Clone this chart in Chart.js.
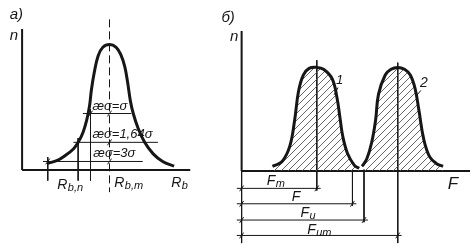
<!DOCTYPE html>
<html lang="ru">
<head>
<meta charset="UTF-8">
<title>Распределение</title>
<style>
  body{margin:0;background:#fff;}
  #wrap{position:relative;width:476px;height:250px;background:#fff;}
  canvas{position:absolute;top:0;}
</style>
</head>
<body>
<div id="wrap">
  <canvas id="left_chart" width="200" height="250" style="left:0;width:200px;height:250px"></canvas>
  <canvas id="right_chart" width="276" height="250" style="left:200px;width:276px;height:250px"></canvas>
</div>
<script src="https://cdn.jsdelivr.net/npm/chart.js"></script>
<script>
  // panel а) : distribution of R_b
  var rb_x = [13.5,18.5,22.5,27,29.5,32,34,35.5,36.5,38,40,42.5,46,49.5,52,54,55.5,57,58.5,61,64.5,69,74,80];
  var rb_n = [4.7,6.7,10,14.7,19.3,26,34.7,44.7,56,68,79.3,85.3,87.3,85.3,80,72,61.3,48,39.3,29.3,19.3,11.3,6,2.7];
  var rb_m = 46;
  var level_names = ['æσ=σ','æσ=1,64σ','æσ=3σ'];
  var level_n = [39.3, 19.3, 6];
  var level_from = [32, 27, 11];
  var level_to = [57.5, 71.5, 63.5];
  var level_foot = [36, 29.5, 13.5];

  // panel б) : two distributions of F
  var f1_x = [16,21,25,27.5,29.5,32,35,39,42.5,47,49.5,51,52.5,55,58.5,61];
  var f1_n = [3.3,6.7,17.3,35.3,55.3,66.7,71.3,72,70.7,64,50.7,37.3,24,12,4,2];
  var f2_x = [62.5,65,67.5,69.5,71,74.5,77.5,81,84.5,87.5,90,92,94.5,97.5,101,104.5];
  var f2_n = [3.3,8.7,20,35.3,53.3,66.7,70.7,72,70.7,66.7,57.3,42,22,10,5.3,3.3];
  var dim_names = ['m','','u','um'];
  var dim_to = [39, 57.5, 63.5, 81];
  var dim_level = [-12, -22.7, -34, -44.7];

  var INK = '#161616';
  var FONT = '"Liberation Sans", "DejaVu Sans", sans-serif';

  function seg(x1,y1,x2,y2,w,dash){
    return {type:'line', data:[{x:x1,y:y1},{x:x2,y:y2}], borderColor:INK, borderWidth:w||1,
      borderDash:dash||[], pointRadius:0, fill:false, tension:0};
  }
  function curve(xs,ys,fillStyle){
    var pts = [];
    for(var i=0;i<xs.length;i++){ pts.push({x:xs[i],y:ys[i]}); }
    return {type:'line', data:pts, borderColor:INK, borderWidth:3, pointRadius:0, tension:0.4,
      fill: fillStyle ? 'origin' : false, backgroundColor: fillStyle || 'transparent'};
  }
  function ticks(pts){
    return {type:'scatter', data:pts, pointStyle:'line', rotation:-55, pointRadius:3.5,
      borderColor:INK, borderWidth:1, backgroundColor:INK};
  }
  function hatch(){
    var c = document.createElement('canvas');
    c.width = 7; c.height = 7;
    var g = c.getContext('2d');
    g.strokeStyle = '#555'; g.lineWidth = 0.9;
    g.beginPath();
    g.moveTo(0,7); g.lineTo(7,0);
    g.moveTo(-1,1); g.lineTo(1,-1);
    g.moveTo(6,8); g.lineTo(8,6);
    g.stroke();
    return g.createPattern(c,'repeat');
  }

  var notes_plugin = {
    id: 'notes',
    afterDraw: function(chart, args, opts){
      var ctx = chart.ctx, sx = chart.scales.x, sy = chart.scales.y;
      ctx.save();
      ctx.fillStyle = INK;
      ctx.textBaseline = 'middle';
      ctx.textAlign = 'left';
      opts.items.forEach(function(it){
        var px = sx.getPixelForValue(it.x), py = sy.getPixelForValue(it.y);
        var size = it.size || 15;
        ctx.font = 'italic ' + size + 'px ' + FONT;
        ctx.fillText(it.t, px, py);
        if(it.sub){
          var w = ctx.measureText(it.t).width;
          ctx.font = 'italic ' + Math.round(size*0.75) + 'px ' + FONT;
          ctx.fillText(it.sub, px + w + 0.5, py + size*0.2);
        }
      });
      ctx.restore();
    }
  };

  function baseOptions(xmin,xmax,ymin,ymax,items){
    return {
      responsive:false, animation:false, events:[],
      layout:{padding:0},
      scales:{
        x:{type:'linear', display:false, min:xmin, max:xmax},
        y:{type:'linear', display:false, min:ymin, max:ymax}
      },
      plugins:{legend:{display:false}, tooltip:{enabled:false}, notes:{items:items}}
    };
  }

  function loadLeftChart(){
    var sets = [];
    sets.push(seg(0,98,0,0,2));
    sets.push(seg(0,0,88.5,0,2));
    sets.push(seg(rb_m,104.7,rb_m,-15.3,1,[8,4]));
    var tk = [];
    for(var i=0;i<level_n.length;i++){
      sets.push(seg(level_from[i],level_n[i],level_to[i],level_n[i],1));
      sets.push(seg(level_foot[i],level_n[i]+3,level_foot[i],-7.3,1));
      tk.push({x:level_foot[i],y:level_n[i]});
      tk.push({x:rb_m,y:level_n[i]});
    }
    sets.push(ticks(tk));
    sets.push(curve(rb_x,rb_n,null));

    var items = [
      {t:'а)', x:-6.5, y:108},
      {t:'n', x:-6.5, y:93.3},
      {t:level_names[0], x:37, y:44.5, size:13},
      {t:level_names[1], x:37, y:24.7, size:13},
      {t:level_names[2], x:37.5, y:11.3, size:13},
      {t:'R', sub:'b,n', x:18.5, y:-10.7, size:14},
      {t:'R', sub:'b,m', x:48.5, y:-9.3, size:14},
      {t:'R', sub:'b', x:78.5, y:-9.3, size:14}
    ];
    new Chart(document.getElementById('left_chart'), {
      type:'line',
      data:{datasets:sets},
      options:baseOptions(-9,91,-52,114.67,items),
      plugins:[notes_plugin]
    });
  }

  function loadRightChart(){
    var pat = hatch();
    var sets = [];
    sets.push(curve(f1_x,f1_n,pat));
    sets.push(curve(f2_x,f2_n,pat));
    sets.push(seg(0,97.3,0,0,2));
    sets.push(seg(0,0,0,-50,1));
    sets.push(seg(0,0,118.5,0,2));
    // verticals from peaks and from the boundaries
    sets.push(seg(dim_to[0],77,dim_to[0],dim_level[0]-1.5,1));
    sets.push(seg(dim_to[1],1,dim_to[1],dim_level[1]-1.5,1));
    sets.push(seg(dim_to[2],1,dim_to[2],dim_level[2]-1.5,1));
    sets.push(seg(dim_to[3],75.3,dim_to[3],-50,1));
    var tk = [];
    for(var i=0;i<dim_to.length;i++){
      sets.push(seg(-2.5,dim_level[i],dim_to[i]+2,dim_level[i],1));
      tk.push({x:0,y:dim_level[i]});
      tk.push({x:dim_to[i],y:dim_level[i]});
    }
    sets.push(ticks(tk));
    // leaders for curve numbers
    sets.push(seg(50,58,48,53,1));
    sets.push(seg(93,56,90.5,52,1));

    var items = [
      {t:'б)', x:-10.5, y:106.7},
      {t:'n', x:-6, y:93.3},
      {t:'1', x:49, y:63.3, size:13},
      {t:'2', x:92.5, y:61.3, size:14},
      {t:'F', sub:dim_names[0], x:13, y:-7.3, size:14},
      {t:'F', sub:dim_names[1], x:26, y:-18, size:14},
      {t:'F', sub:dim_names[2], x:30.5, y:-29.3, size:14},
      {t:'F', sub:dim_names[3], x:34, y:-40.7, size:14},
      {t:'F', x:107, y:-9.3, size:17}
    ];
    new Chart(document.getElementById('right_chart'), {
      type:'line',
      data:{datasets:sets},
      options:baseOptions(-19,119,-51.33,115.33,items),
      plugins:[notes_plugin]
    });
  }

  loadLeftChart();
  loadRightChart();
</script>
</body>
</html>
